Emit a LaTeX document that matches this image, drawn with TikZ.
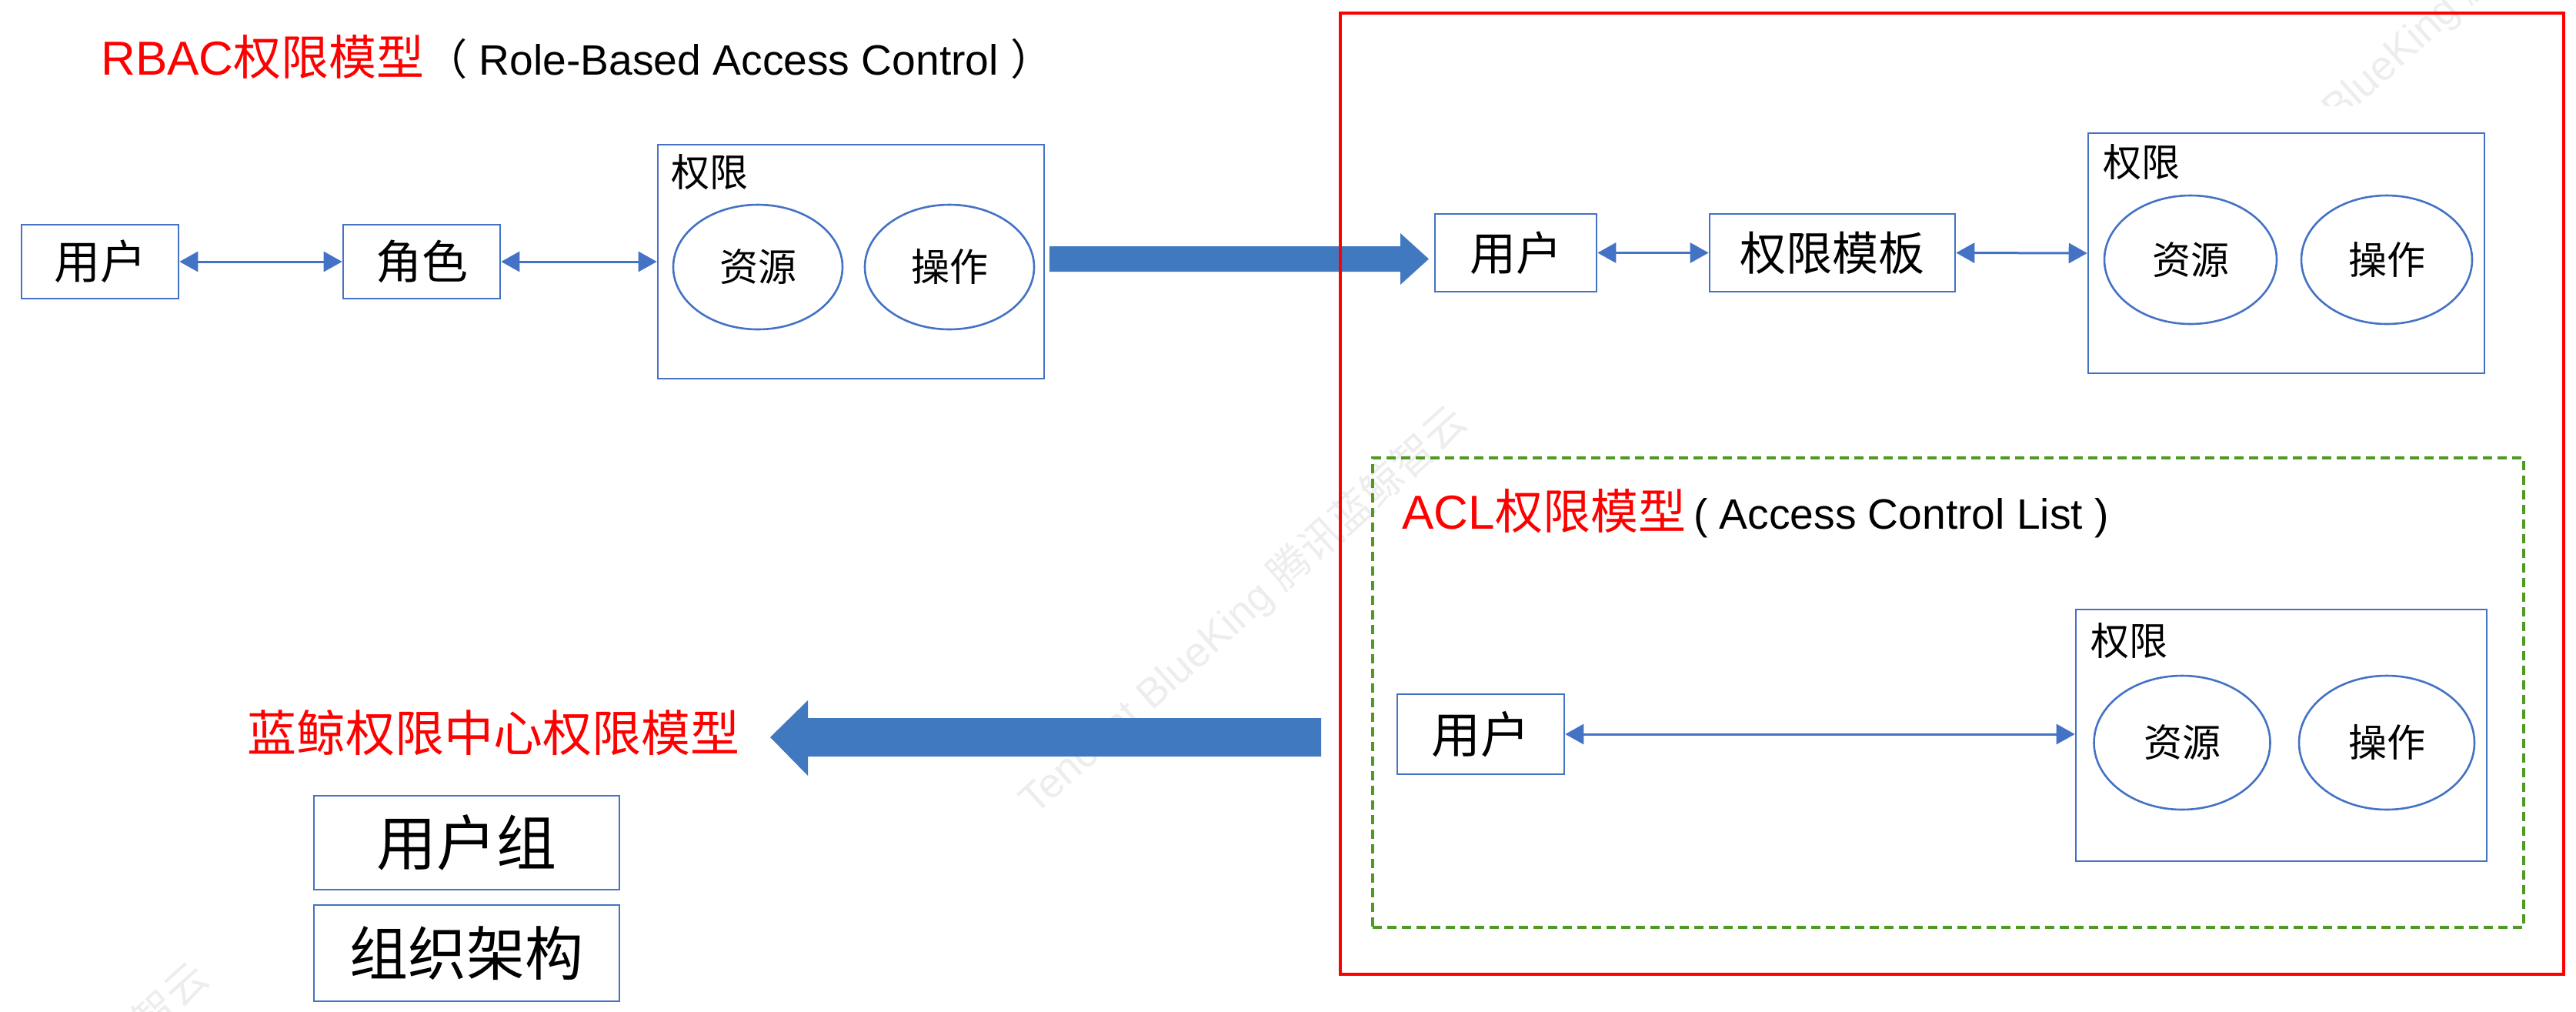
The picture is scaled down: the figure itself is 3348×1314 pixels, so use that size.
\documentclass[tikz,border=0pt]{standalone}
\usepackage{fontspec}
\setmainfont{Liberation Sans}
\newfontfamily\cjk{Noto Sans CJK SC}
\usetikzlibrary{arrows.meta,shapes.geometric}
\definecolor{boxblue}{HTML}{4472C4}
\definecolor{bigblue}{HTML}{4179C1}
\definecolor{redc}{HTML}{FF0000}
\definecolor{greenc}{HTML}{4F9A22}
\definecolor{wm}{HTML}{EDEDED}
\newcommand\myfs[1]{\fontsize{#1}{#1}\selectfont}
\begin{document}
\begin{tikzpicture}[x=0.5pt,y=-0.5pt,
  bx/.style={draw=boxblue,line width=1.3pt,inner sep=0pt,font=\cjk\myfs{30pt}},
  ell/.style={ellipse,draw=boxblue,line width=1.3pt,inner sep=0pt,font=\cjk\myfs{25pt}},
  lbl/.style={anchor=west,inner sep=0pt,font=\cjk\myfs{25pt}},
  conn/.style={{Triangle[length=12pt,width=13pt]}-{Triangle[length=12pt,width=13pt]},draw=boxblue,line width=1.5pt},
  bigarrow/.style={fill=bigblue,draw=none},
  wmark/.style={rotate=42,text=wm,font=\myfs{27pt}}
]
\useasboundingbox (0,0) rectangle (3348,1314);
% watermarks
\node[wmark] (wm1) at (1616,794) {Tencent BlueKing {\cjk 腾讯蓝鲸智云}};
\begin{scope}
\clip (0,0) rectangle (3348,137);
\node[wmark] (wm2) at (3157,32) {Tencent BlueKing {\cjk 腾讯蓝鲸智云}};
\end{scope}
\begin{scope}
\clip (0,0) rectangle (3348,1314);
\node[wmark] (wm3) at (-19,1517) {Tencent BlueKing {\cjk 腾讯蓝鲸智云}};
\end{scope}

% ---------- RBAC ----------
\node[anchor=base west,inner sep=0pt,text=redc] (t1) at (131,97)
  {\myfs{31pt}RBAC{\cjk 权限模型}};
\node[anchor=base west,inner sep=0pt] (t1b) at (t1.base east)
  {\myfs{27.6pt}{\cjk （} Role-Based Access Control {\cjk ）}};

\node[bx,minimum width=102pt,minimum height=48pt] (u1) at (130,340) {用户};
\node[bx,minimum width=102pt,minimum height=48pt] (r1) at (548,340) {角色};
\node[bx,minimum width=251pt,minimum height=152pt] (p1) at (1106,340) {};
\node[lbl] (p1l) at (872,224) {权限};
\node[ell,minimum width=110pt,minimum height=81pt] (e1a) at (985,347) {资源};
\node[ell,minimum width=110pt,minimum height=81pt] (e1b) at (1234,347) {操作};
\draw[conn] (u1.east) -- (r1.west);
\draw[conn] (r1.east) -- (p1.west);

% big arrow to the right
\coordinate (ba1) at (1364,320);
\coordinate (ba2) at (1820,320);
\coordinate (ba3) at (1820,303);
\coordinate (ba4) at (1857,336.5);
\coordinate (ba5) at (1820,370);
\coordinate (ba6) at (1820,353);
\coordinate (ba7) at (1364,353);
\path[bigarrow] (ba1) -- (ba2) -- (ba3) -- (ba4) -- (ba5) -- (ba6) -- (ba7) -- cycle;

% ---------- red frame ----------
\node[draw=redc,line width=2pt,minimum width=795pt,minimum height=624.5pt,inner sep=0pt] (frame) at (2537,641.5) {};

% top right model
\node[bx,minimum width=105pt,minimum height=50.5pt] (u2) at (1970,328.5) {用户};
\node[bx,minimum width=159.5pt,minimum height=50.5pt] (t2) at (2381.5,328.5) {权限模板};
\node[bx,minimum width=257.5pt,minimum height=156pt] (p2) at (2971.5,329) {};
\node[lbl] (p2l) at (2733,211) {权限};
\node[ell,minimum width=112pt,minimum height=83.5pt] (e2a) at (2847,337.5) {资源};
\node[ell,minimum width=111pt,minimum height=83.5pt] (e2b) at (3102,337.5) {操作};
\draw[conn] (u2.east) -- (t2.west);
\draw[conn] (t2.east) -- (p2.west);

% ---------- ACL ----------
\node[draw=greenc,line width=1.6pt,dash pattern=on 6pt off 3.5pt,minimum width=748pt,minimum height=305pt,inner sep=0pt] (acl) at (2532,900) {};
\node[anchor=base west,inner sep=0pt,text=redc] (t3) at (1822,687)
  {\myfs{31pt}ACL{\cjk 权限模型}};
\node[anchor=base west,inner sep=0pt] (t3b) at (t3.base east)
  {\myfs{27.6pt}\,( Access Control List )};
\node[bx,minimum width=108.5pt,minimum height=52pt,font=\cjk\myfs{32pt}] (u3) at (1924.5,954) {用户};
\node[bx,minimum width=267pt,minimum height=163.5pt] (p3) at (2965,955.5) {};
\node[lbl] (p3l) at (2717,833) {权限};
\node[ell,minimum width=114.5pt,minimum height=87pt] (e3a) at (2836,965) {资源};
\node[ell,minimum width=114pt,minimum height=87pt] (e3b) at (3102,965) {操作};
\draw[conn] (u3.east) -- (u3.east -| p3.west);

% ---------- BlueKing ----------
\node[anchor=west,inner sep=0pt,text=redc,font=\cjk\myfs{32pt}] (t4) at (321,952) {蓝鲸权限中心权限模型};
\coordinate (bb1) at (1717,933);
\coordinate (bb2) at (1050,933);
\coordinate (bb3) at (1050,910);
\coordinate (bb4) at (1001,958);
\coordinate (bb5) at (1050,1008);
\coordinate (bb6) at (1050,983);
\coordinate (bb7) at (1717,983);
\path[bigarrow] (bb1) -- (bb2) -- (bb3) -- (bb4) -- (bb5) -- (bb6) -- (bb7) -- cycle;
\node[bx,minimum width=198.5pt,minimum height=61pt,font=\cjk\myfs{39pt}] (g1) at (606.5,1095) {用户组};
\node[bx,minimum width=198.5pt,minimum height=62.5pt,font=\cjk\myfs{38pt}] (g2) at (606.5,1238.5) {组织架构};
\end{tikzpicture}
\end{document}
